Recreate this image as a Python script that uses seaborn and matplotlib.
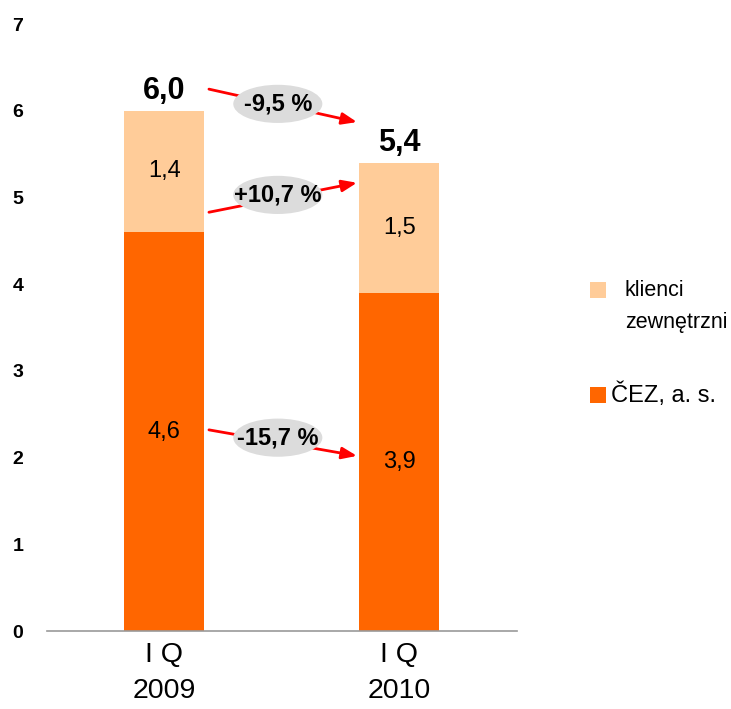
import matplotlib
matplotlib.use("Agg")
import matplotlib.pyplot as plt
from matplotlib.patches import Ellipse, Rectangle
import pandas as pd
import seaborn as sns

# Data
periods = ["I Q\n2009", "I Q\n2010"]
cez = [4.6, 3.9]
external = [1.4, 1.5]
totals = [6.0, 5.4]
cez_labels = ["4,6", "3,9"]
external_labels = ["1,4", "1,5"]
total_labels = ["6,0", "5,4"]
change_labels = ["-9,5 %", "+10,7 %", "-15,7 %"]

dark = "#FF6600"
light = "#FFCC99"

sns.set_style("white")
plt.rcParams["font.family"] = ["Liberation Sans", "DejaVu Sans"]
plt.rcParams["text.color"] = "black"
plt.rcParams["xtick.color"] = "black"
plt.rcParams["ytick.color"] = "black"

df = pd.DataFrame({"period": periods, "cez": cez, "external": external, "total": totals})

fig = plt.figure(figsize=(7.31, 7.09), dpi=100)
ax = fig.add_axes([0.064, 0.110, 0.643, 0.856])

sns.barplot(data=df, x="period", y="total", color=light, width=0.34, saturation=1,
            linewidth=0, ax=ax)
sns.barplot(data=df, x="period", y="cez", color=dark, width=0.34, saturation=1,
            linewidth=0, ax=ax)

ax.set_xlim(-0.5, 1.5)
ax.set_ylim(0, 7)
ax.set_yticks(range(0, 8))
ax.set_xlabel("")
ax.set_ylabel("")
for s in ["top", "right", "left"]:
    ax.spines[s].set_visible(False)
ax.spines["bottom"].set_color("#999999")
ax.spines["bottom"].set_linewidth(1.2)
ax.tick_params(axis="both", length=0)
ax.tick_params(axis="y", pad=17)
for lab in ax.get_yticklabels():
    lab.set_fontweight("bold")
    lab.set_fontsize(14)
for lab in ax.get_xticklabels():
    lab.set_fontsize(20.5)
    lab.set_linespacing(1.5)
ax.tick_params(axis="x", pad=8)

# segment labels
for i in range(2):
    ax.text(i, cez[i] / 2, cez_labels[i], ha="center", va="center", fontsize=17)
    ax.text(i, cez[i] + external[i] / 2, external_labels[i], ha="center", va="center", fontsize=17)
    ax.text(i, totals[i] + 0.23, total_labels[i], ha="center", va="center",
            fontsize=22, fontweight="bold")

# change arrows with labels
arrows = [((0.19, 6.25), (0.82, 5.87), (0.483, 6.08)),
          ((0.19, 4.83), (0.82, 5.17), (0.483, 5.03)),
          ((0.19, 2.32), (0.82, 2.02), (0.483, 2.23))]
for (start, end, center), txt in zip(arrows, change_labels):
    ax.annotate("", xy=end, xytext=start,
                arrowprops=dict(arrowstyle="-|>,head_length=0.9,head_width=0.35",
                                color="#FF0000", lw=2, shrinkA=0, shrinkB=0))
    ax.add_patch(Ellipse(center, 0.379, 0.44, facecolor="#DCDCDC", edgecolor="none", zorder=3))
    ax.text(center[0], center[1], txt, ha="center", va="center", fontsize=17,
            fontweight="bold", zorder=4)

# legend
fig.patches.append(Rectangle((590 / 731, 1 - 298 / 709), 16 / 731, 16 / 709,
                             transform=fig.transFigure, facecolor=light, edgecolor="none"))
fig.patches.append(Rectangle((590 / 731, 1 - 403 / 709), 16 / 731, 16 / 709,
                             transform=fig.transFigure, facecolor=dark, edgecolor="none"))
fig.text(625 / 731, 1 - 290 / 709, "klienci", fontsize=15.5, va="center")
fig.text(625 / 731, 1 - 323 / 709, "zewnętrzni", fontsize=15.5, va="center")
fig.text(611 / 731, 1 - 395 / 709, "ČEZ, a. s.", fontsize=17, va="center")

fig.savefig("out.png", dpi=100)
